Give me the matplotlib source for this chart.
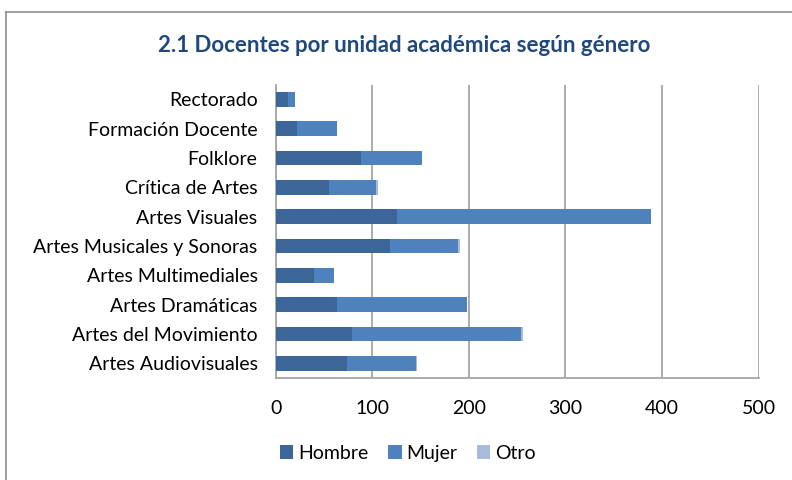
import matplotlib.pyplot as plt
import numpy as np

unidades = ["Artes Audiovisuales", "Artes del Movimiento", "Artes Dramáticas",
            "Artes Multimediales", "Artes Musicales y Sonoras", "Artes Visuales",
            "Crítica de Artes", "Folklore", "Formación Docente", "Rectorado"]
hombre = [74, 79, 64, 40, 118, 126, 55, 88, 22, 13]
mujer = [71, 175, 134, 20, 71, 262, 49, 64, 42, 7]
otro = [1, 2, 0, 0, 2, 0, 2, 0, 0, 0]

plt.rcParams['font.family'] = ['Lato', 'DejaVu Sans']

fig = plt.figure(figsize=(7.92, 4.8), dpi=100)
ax = fig.add_axes([0.348, 0.2125, 0.61, 0.611])

y = np.arange(len(unidades))
h = np.array(hombre)
m = np.array(mujer)
o = np.array(otro)
ax.barh(y, h, height=0.5, color="#3D6698", label="Hombre", zorder=3)
ax.barh(y, m, left=h, height=0.5, color="#4F81BD", label="Mujer", zorder=3)
ax.barh(y, o, left=h + m, height=0.5, color="#A7BCDD", label="Otro", zorder=3)

ax.set_xlim(0, 500)
ax.set_ylim(-0.5, len(unidades) - 0.5)
ax.set_xticks(range(0, 501, 100))
ax.set_yticks(y)
ax.set_yticklabels(unidades)
ax.tick_params(axis="both", length=0, labelsize=14, colors="#000000")
ax.tick_params(axis="x", pad=16)
ax.tick_params(axis="y", pad=13)
ax.grid(axis="x", color="#A6A6A6", linewidth=1.3, zorder=0)
for s in ["top", "right"]:
    ax.spines[s].set_visible(False)
ax.spines["left"].set_color("#A6A6A6")
ax.spines["bottom"].set_color("#A6A6A6")
ax.spines["left"].set_linewidth(1.3)
ax.spines["bottom"].set_linewidth(1.3)

fig.text(0.510, 0.905, "2.1 Docentes por unidad académica según género",
         ha="center", va="center", fontsize=16, fontweight="bold", color="#1F497D")

fig.legend(loc="center", bbox_to_anchor=(0.515, 0.055), ncol=3, frameon=False,
           fontsize=14, handlelength=0.7, handleheight=0.7, handletextpad=0.25,
           columnspacing=1.0)

# chart border
fig.add_artist(plt.Line2D([0.008, 0.008], [0, 0.975], color="#8C8C8C", linewidth=1.2))
fig.add_artist(plt.Line2D([0.008, 1.0], [0.975, 0.975], color="#8C8C8C", linewidth=1.2))

fig.savefig("out.png", dpi=100)
